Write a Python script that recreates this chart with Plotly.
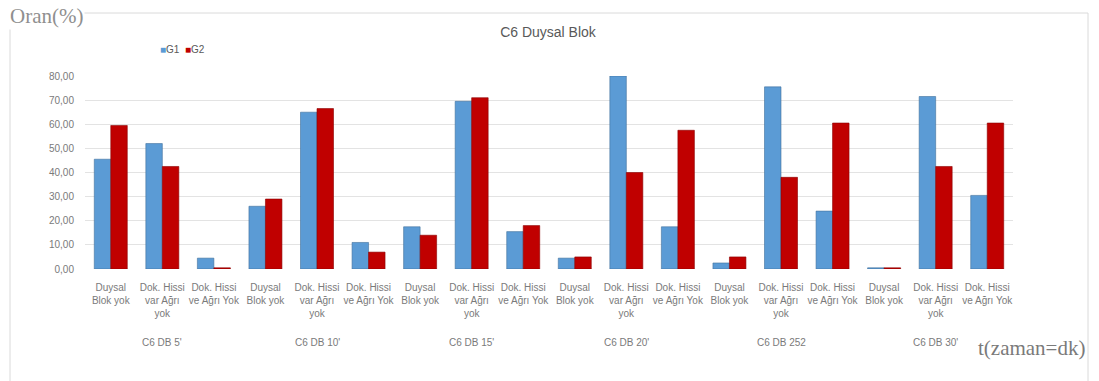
import plotly.graph_objects as go

groups = ["C6 DB 5'", "C6 DB 10'", "C6 DB 15'", "C6 DB 20'", "C6 DB 252", "C6 DB 30'"]
subcats = ["Duysal<br>Blok yok", "Dok. Hissi<br>var Ağrı<br>yok", "Dok. Hissi<br>ve Ağrı Yok"]
series_names = ["G1", "G2"]
series_colors = ["#5B9BD5", "#C00000"]

G1 = [45.5, 52, 4.5, 26, 65, 11, 17.5, 69.5, 15.5, 4.5, 80, 17.5, 2.5, 75.5, 24, 0.5, 71.5, 30.5]
G2 = [59.5, 42.5, 0.5, 29, 66.5, 7, 14, 71, 18, 5, 40, 57.5, 5, 38, 60.5, 0.5, 42.5, 60.5]

keys = [f"{g}|{s}" for g in groups for s in subcats]
ticktext = [s for g in groups for s in subcats]

W, H = 1099, 381
left, right, top, bottom = 85, 1013, 76, 269

fig = go.Figure()
fig.add_trace(go.Bar(x=keys, y=G1, name=series_names[0],
                     marker=dict(color=series_colors[0], line=dict(color="#41719C", width=0.6))))
fig.add_trace(go.Bar(x=keys, y=G2, name=series_names[1],
                     marker=dict(color=series_colors[1], line=dict(color="#8B0000", width=0.6))))

font_tick = "Liberation Sans Narrow, Liberation Sans, Arial"
fig.update_layout(
    width=W, height=H,
    margin=dict(l=left, r=W - right, t=top, b=H - bottom),
    paper_bgcolor="white", plot_bgcolor="white",
    barmode="group", bargap=0.36, bargroupgap=0.0,
    separators=", ",
    showlegend=False,
    title=dict(text="C6 Duysal Blok", xref="container", yref="container",
               x=548 / W, y=1 - 32 / H, xanchor="center", yanchor="middle",
               font=dict(family="Liberation Sans, Arial", size=14, color="#595959")),
    xaxis=dict(type="category", tickmode="array", tickvals=keys, ticktext=ticktext,
               tickangle=0,
               tickfont=dict(family=font_tick, size=10, color="#7a7a7a"),
               showgrid=False, showline=False, ticks="", ticklabelstandoff=11),
    yaxis=dict(range=[0, 80], dtick=10, tickformat=".2f",
               tickfont=dict(family="Liberation Sans, Arial", size=10, color="#7a7a7a"),
               showgrid=True, gridcolor="#E3E3E3", gridwidth=1, zeroline=False,
               showline=False, ticks="", ticklabelstandoff=10),
)

# legend drawn as text with coloured squares
legend_text = "  ".join(
    f"<span style='color:{c}'>■</span><span style='color:#595959'>{n}</span>"
    for n, c in zip(series_names, series_colors))
fig.add_annotation(text=legend_text, xref="paper", yref="paper",
                   x=(158 - left) / (right - left), y=(bottom - 50) / (bottom - top),
                   xanchor="left", yanchor="middle", showarrow=False,
                   font=dict(family="Liberation Sans, Arial", size=10, color="#595959"))

# group labels under the middle category of each group
for g in groups:
    fig.add_annotation(x=f"{g}|{subcats[1]}", xref="x", y=0, yref="paper",
                       yshift=-(342 - bottom), text=g, showarrow=False,
                       xanchor="center", yanchor="middle",
                       font=dict(family=font_tick, size=10, color="#7a7a7a"))

# chart frame
fig.add_shape(type="rect", xref="paper", yref="paper",
              x0=(10 - left) / (right - left), x1=(1088 - left) / (right - left),
              y0=(bottom - 385) / (bottom - top), y1=(bottom - 13) / (bottom - top),
              line=dict(color="#DADADA", width=1), layer="below")

fig.add_annotation(text="Oran(%)", xref="paper", yref="paper",
                   x=(8 - left) / (right - left), y=(bottom - 16) / (bottom - top),
                   xanchor="left", yanchor="middle", showarrow=False, bgcolor="white",
                   font=dict(family="Liberation Serif, Times New Roman", size=21, color="#8f8f8f"))
fig.add_annotation(text="t(zaman=dk)", xref="paper", yref="paper",
                   x=(1087 - left) / (right - left), y=(bottom - 348) / (bottom - top),
                   xanchor="right", yanchor="middle", showarrow=False, bgcolor="white",
                   font=dict(family="Liberation Serif, Times New Roman", size=21, color="#7a7a7a"))

fig.write_html("out.html")
